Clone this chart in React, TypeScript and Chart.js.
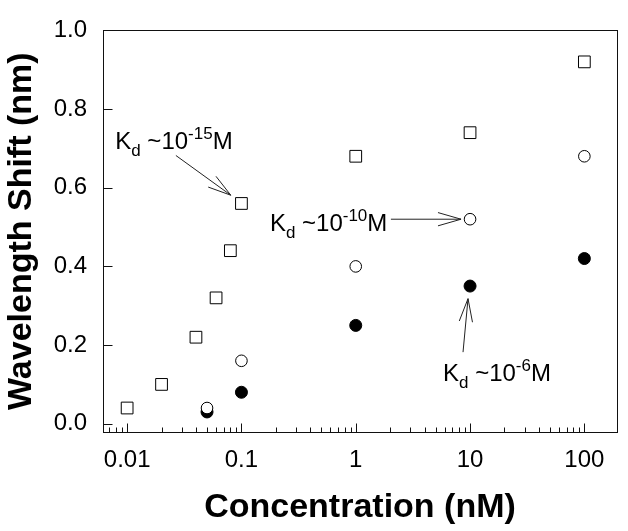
import React, { useEffect, useRef } from 'react';
import { Chart, registerables } from 'chart.js';

Chart.register(...registerables);

// ---- data ----
const squareX = [0.01, 0.02, 0.04, 0.06, 0.08, 0.1, 1, 10, 100];
const squareY = [0.04, 0.10, 0.22, 0.32, 0.44, 0.56, 0.68, 0.74, 0.92];

const openCircleX = [0.05, 0.1, 1, 10, 100];
const openCircleY = [0.04, 0.16, 0.40, 0.52, 0.68];

const filledCircleX = [0.05, 0.1, 1, 10, 100];
const filledCircleY = [0.03, 0.08, 0.25, 0.35, 0.42];

// ---- axes ----
const xTickValues = [0.01, 0.1, 1, 10, 100];
const xTickLabels = ['0.01', '0.1', '1', '10', '100'];
const yTickValues = [0, 0.2, 0.4, 0.6, 0.8, 1.0];
const yTickLabels = ['0.0', '0.2', '0.4', '0.6', '0.8', '1.0'];
const xMin = 0.00615;
const xMax = 193;
const yMin = -0.021;
const yMax = 1.0;
const xMinorMultipliers = [2, 3, 4, 5, 6, 7, 8, 9];
const xDecades = [0.001, 0.01, 0.1, 1, 10, 100];

// ---- annotations (in data coordinates) ----
const kdExponents = ['-15', '-10', '-6'];
const kdTextX = [0.00787, 0.1774, 5.8];
const kdTextY = [0.698, 0.4895, 0.108];
const arrowFromX = [0.0267, 2.03, 8.68];
const arrowFromY = [0.682, 0.52, 0.182];
const arrowToX = [0.0807, 8.34, 9.6];
const arrowToY = [0.581, 0.52, 0.318];

const FONT = '"Liberation Sans", Arial, Helvetica, sans-serif';

function drawKd(ctx: CanvasRenderingContext2D, x: number, y: number, exp: string) {
  ctx.textAlign = 'left';
  ctx.textBaseline = 'alphabetic';
  ctx.fillStyle = '#000';
  let cx = x;
  ctx.font = `24px ${FONT}`;
  ctx.fillText('K', cx, y);
  cx += ctx.measureText('K').width;
  ctx.font = `17px ${FONT}`;
  ctx.fillText('d', cx, y + 6.5);
  cx += ctx.measureText('d').width;
  ctx.font = `24px ${FONT}`;
  ctx.fillText(' ~10', cx, y);
  cx += ctx.measureText(' ~10').width;
  ctx.font = `17px ${FONT}`;
  ctx.fillText(exp, cx, y - 10.5);
  cx += ctx.measureText(exp).width;
  ctx.font = `24px ${FONT}`;
  ctx.fillText('M', cx, y);
}

function drawArrow(ctx: CanvasRenderingContext2D, x1: number, y1: number, x2: number, y2: number) {
  const ang = Math.atan2(y2 - y1, x2 - x1);
  const len = 24;
  const spread = 0.28;
  ctx.beginPath();
  ctx.moveTo(x1, y1);
  ctx.lineTo(x2, y2);
  ctx.moveTo(x2 - len * Math.cos(ang - spread), y2 - len * Math.sin(ang - spread));
  ctx.lineTo(x2, y2);
  ctx.lineTo(x2 - len * Math.cos(ang + spread), y2 - len * Math.sin(ang + spread));
  ctx.stroke();
}

const framePlugin = {
  id: 'frameAndNotes',
  afterDraw(chart: any) {
    const { ctx, chartArea: a, scales } = chart;
    const xs = scales.x;
    const ys = scales.y;
    ctx.save();
    ctx.strokeStyle = '#111';
    ctx.lineWidth = 1;
    const L = Math.round(a.left) + 0.5;
    const R = Math.round(a.right) + 0.5;
    const T = Math.round(a.top) + 0.5;
    const B = Math.round(a.bottom) + 0.5;
    ctx.strokeRect(L, T, R - L, B - T);

    ctx.beginPath();
    for (const v of xTickValues) {
      const px = Math.round(xs.getPixelForValue(v)) + 0.5;
      ctx.moveTo(px, B);
      ctx.lineTo(px, B - 9);
    }
    for (const d of xDecades) {
      for (const m of xMinorMultipliers) {
        const v = m * d;
        if (v <= xMin || v >= xMax) continue;
        const px = Math.round(xs.getPixelForValue(v)) + 0.5;
        ctx.moveTo(px, B);
        ctx.lineTo(px, B - 5);
      }
    }
    for (const v of yTickValues) {
      const py = Math.round(ys.getPixelForValue(v)) + 0.5;
      ctx.moveTo(L, py);
      ctx.lineTo(L + 9, py);
    }
    ctx.stroke();

    ctx.strokeStyle = '#222';
    ctx.lineWidth = 1;
    for (let i = 0; i < kdExponents.length; i++) {
      drawKd(ctx, xs.getPixelForValue(kdTextX[i]), ys.getPixelForValue(kdTextY[i]), kdExponents[i]);
      drawArrow(
        ctx,
        xs.getPixelForValue(arrowFromX[i]),
        ys.getPixelForValue(arrowFromY[i]),
        xs.getPixelForValue(arrowToX[i]),
        ys.getPixelForValue(arrowToY[i])
      );
    }
    ctx.restore();
  },
};

export default function App() {
  const canvasRef = useRef<HTMLCanvasElement | null>(null);

  useEffect(() => {
    if (!canvasRef.current) return;
    const toPts = (xs: number[], ys: number[]) => xs.map((x, i) => ({ x, y: ys[i] }));
    const chart = new Chart(canvasRef.current, {
      type: 'scatter',
      data: {
        datasets: [
          {
            label: 'Kd ~1e-15 M',
            data: toPts(squareX, squareY),
            pointStyle: 'rect',
            pointRadius: 8.3,
            pointBackgroundColor: '#fff',
            pointBorderColor: '#000',
            pointBorderWidth: 1,
            order: 3,
          },
          {
            label: 'Kd ~1e-10 M',
            data: toPts(openCircleX, openCircleY),
            pointStyle: 'circle',
            pointRadius: 5.8,
            pointBackgroundColor: '#fff',
            pointBorderColor: '#000',
            pointBorderWidth: 1,
            order: 1,
          },
          {
            label: 'Kd ~1e-6 M',
            data: toPts(filledCircleX, filledCircleY),
            pointStyle: 'circle',
            pointRadius: 6,
            pointBackgroundColor: '#000',
            pointBorderColor: '#000',
            pointBorderWidth: 1,
            order: 2,
          },
        ],
      },
      options: {
        animation: false,
        responsive: true,
        maintainAspectRatio: false,
        events: [],
        layout: { padding: { left: 0, top: 20, right: 11, bottom: 0 } },
        plugins: {
          legend: { display: false },
          tooltip: { enabled: false },
        },
        scales: {
          x: {
            type: 'logarithmic',
            position: 'bottom',
            min: xMin,
            max: xMax,
            grid: { display: false, drawTicks: false },
            border: { display: false },
            afterBuildTicks: (s: any) => {
              s.ticks = xTickValues.map((v) => ({ value: v }));
            },
            afterFit: (s: any) => {
              s.height = 99;
            },
            ticks: {
              autoSkip: false,
              maxRotation: 0,
              padding: 14,
              color: '#000',
              font: { family: FONT, size: 24 },
              callback: (_v: any, i: number) => xTickLabels[i],
            },
            title: {
              display: true,
              text: 'Concentration (nM)',
              color: '#000',
              font: { family: FONT, size: 34, weight: 'bold', lineHeight: 1.2 },
              padding: { top: 0, bottom: 3.4 },
            },
          },
          y: {
            type: 'linear',
            min: yMin,
            max: yMax,
            grid: { display: false, drawTicks: false },
            border: { display: false },
            afterBuildTicks: (s: any) => {
              s.ticks = yTickValues.map((v) => ({ value: v }));
            },
            afterFit: (s: any) => {
              s.width = 103;
            },
            ticks: {
              autoSkip: false,
              padding: 16,
              color: '#000',
              font: { family: FONT, size: 24 },
              callback: (_v: any, i: number) => yTickLabels[i],
            },
            title: {
              display: true,
              text: 'Wavelength Shift (nm)',
              color: '#000',
              font: { family: FONT, size: 34, weight: 'bold', lineHeight: 1.2 },
              padding: { top: 1, bottom: 0 },
            },
          },
        },
      },
      plugins: [framePlugin],
    });
    return () => chart.destroy();
  }, []);

  return (
    <div
      style={{
        position: 'fixed',
        left: 0,
        top: 0,
        width: 628,
        height: 531,
        background: '#fff',
      }}
    >
      <canvas ref={canvasRef} />
    </div>
  );
}
